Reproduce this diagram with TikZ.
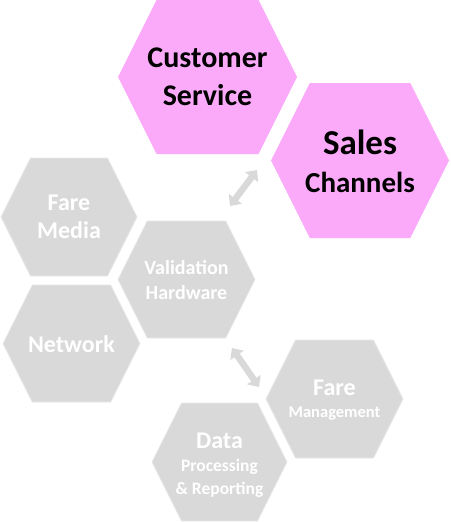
\documentclass[tikz,border=0pt]{standalone}
\usepackage{fontspec}
\setmainfont{Carlito}
\usetikzlibrary{arrows.meta}
\definecolor{hexpink}{RGB}{250,170,248}
\definecolor{hexgray}{RGB}{217,217,217}
\definecolor{hexedge}{RGB}{232,232,232}
\definecolor{arrgray}{RGB}{217,217,217}
\tikzset{
  pinkhex/.style={fill=hexpink},
  grayhex/.style={fill=hexgray, draw=hexedge, line width=0.8pt},
  pinktext/.style={text=black, align=center, inner sep=0pt},
  graytext/.style={text=white, align=center, inner sep=0pt},
  linkarrow/.style={draw=arrgray, line width=6.5pt,
    {Triangle[width=16pt,length=9pt]}-{Triangle[width=16pt,length=9pt]}},
}
% hexagon: cx, cy, w, h, style
\newcommand\hexshape[5]{%
  \path[#5] ({#1-#3/2},{#2})
    -- ({#1-#3/2+0.25*#4},{#2-#4/2})
    -- ({#1+#3/2-0.25*#4},{#2-#4/2})
    -- ({#1+#3/2},{#2})
    -- ({#1+#3/2-0.25*#4},{#2+#4/2})
    -- ({#1-#3/2+0.25*#4},{#2+#4/2})
    -- cycle;}
\begin{document}
\begin{tikzpicture}[x=1pt,y=-1pt]
\useasboundingbox (0,0) rectangle (450,522);
% pink hexagons
\hexshape{207.5}{77}{179}{154}{pinkhex}
\hexshape{360}{160.5}{178}{155}{pinkhex}
% gray hexagons
\hexshape{69}{217}{136}{118}{grayhex}
\hexshape{186.5}{279.5}{137}{117}{grayhex}
\hexshape{71.5}{343.5}{137}{117}{grayhex}
\hexshape{334.5}{399}{137}{118}{grayhex}
\hexshape{219.5}{462}{135}{118}{grayhex}
% texts
\node[pinktext, font=\bfseries\fontsize{30}{38}\selectfont] (cs) at (207.5,77) {Customer\\Service};
\node[pinktext, font=\bfseries\fontsize{29}{38}\selectfont] (sc) at (360,161) {{\fontsize{35}{38}\selectfont Sales}\\Channels};
\node[graytext, font=\bfseries\fontsize{24}{28}\selectfont] (fm) at (69,217) {Fare\\Media};
\node[graytext, font=\bfseries\fontsize{20}{25}\selectfont] (vh) at (186.5,280) {Validation\\Hardware};
\node[graytext, font=\bfseries\fontsize{24}{28}\selectfont] (nw) at (71.5,344) {Network};
\node[graytext, font=\bfseries\fontsize{16.5}{22}\selectfont] (fmg) at (334.5,400) {{\fontsize{24}{22}\selectfont Fare}\\Management};
\node[graytext, font=\bfseries\fontsize{17.5}{23}\selectfont] (dp) at (219.5,465) {{\fontsize{24}{22}\selectfont Data}\\Processing\\\& Reporting};
% arrows
\coordinate (a1s) at (230,206);
\coordinate (a1e) at (257,170);
\coordinate (a2s) at (232,348);
\coordinate (a2e) at (259,387);
\draw[linkarrow] (a1s) -- (a1e);
\draw[linkarrow] (a2s) -- (a2e);
\end{tikzpicture}
\end{document}
